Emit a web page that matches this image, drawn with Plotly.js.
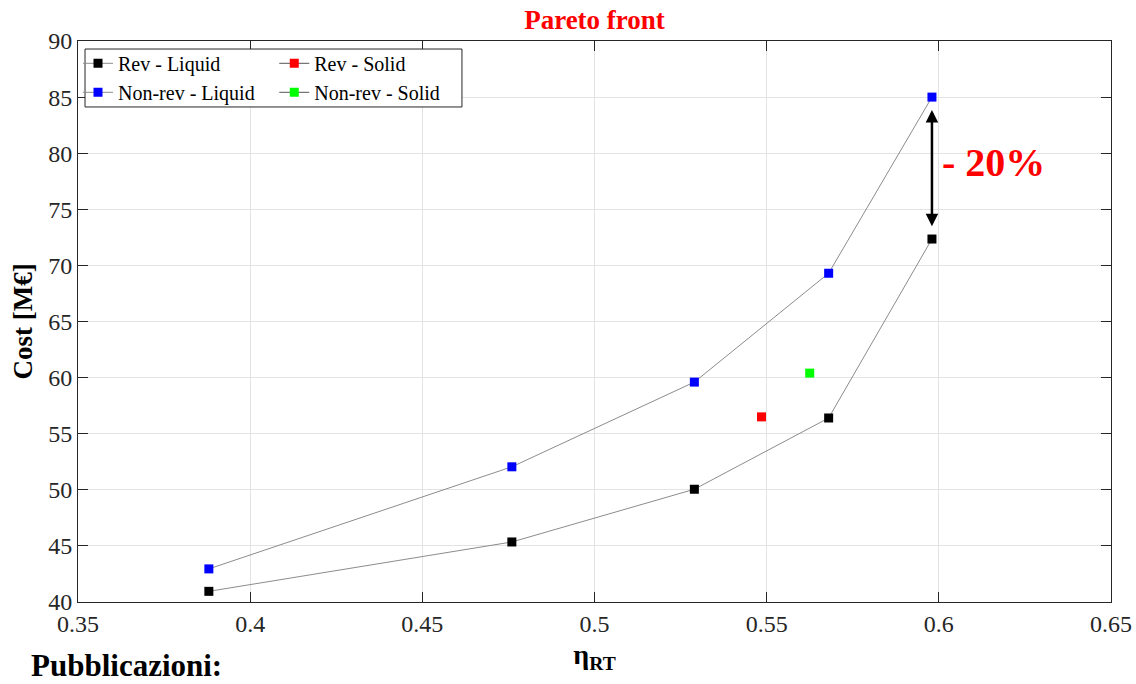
<!DOCTYPE html>
<html>
<head>
<meta charset="utf-8">
<script src="https://cdn.plot.ly/plotly-3.0.1.min.js"></script>
<style>html,body{margin:0;padding:0;background:#fff;}#chart{width:1136px;height:684px;}</style>
</head>
<body>
<div id="chart"></div>
<script>
// Data
const revLiquidEta  = [0.388, 0.476, 0.529, 0.568, 0.598];
const revLiquidCost = [40.95, 45.35, 50.05, 56.4, 72.35];
const nonRevLiquidEta  = [0.388, 0.476, 0.529, 0.568, 0.598];
const nonRevLiquidCost = [42.95, 52.05, 59.6, 69.3, 85.0];
const revSolidEta  = [0.5485];
const revSolidCost = [56.5];
const nonRevSolidEta  = [0.5625];
const nonRevSolidCost = [60.4];
const xTicks = [0.35, 0.4, 0.45, 0.5, 0.55, 0.6, 0.65];
const xTickLabels = ['0.35', '0.4', '0.45', '0.5', '0.55', '0.6', '0.65'];
const yTicks = [40, 45, 50, 55, 60, 65, 70, 75, 80, 85, 90];
const reductionLabel = '- 20%';

const FONT = 'Liberation Serif, Times New Roman, serif';
const lineStyle = {color: '#8c8c8c', width: 1};

const traces = [
  {x: revLiquidEta, y: revLiquidCost, name: 'Rev - Liquid', mode: 'lines+markers',
   line: lineStyle, marker: {symbol: 'square', size: 9, color: '#000000'}, legend: 'legend'},
  {x: nonRevLiquidEta, y: nonRevLiquidCost, name: 'Non-rev - Liquid', mode: 'lines+markers',
   line: lineStyle, marker: {symbol: 'square', size: 9, color: '#0000ff'}, legend: 'legend'},
  {x: revSolidEta, y: revSolidCost, name: 'Rev - Solid', mode: 'lines+markers',
   line: {color: '#555555', width: 1}, marker: {symbol: 'square', size: 9, color: '#ff0000'}, legend: 'legend2'},
  {x: nonRevSolidEta, y: nonRevSolidCost, name: 'Non-rev - Solid', mode: 'lines+markers',
   line: {color: '#555555', width: 1}, marker: {symbol: 'square', size: 9, color: '#00ff00'}, legend: 'legend2'}
];

const axisCommon = {
  showline: true, mirror: 'ticks', linecolor: '#262626', linewidth: 1,
  ticks: 'inside', ticklen: 10, tickcolor: '#262626', tickwidth: 1,
  showgrid: true, gridcolor: '#e3e3e3', gridwidth: 1, zeroline: false,
  tickfont: {family: FONT, size: 24, color: '#262626'}
};

const arrowX = revLiquidEta[4];

const layout = {
  width: 1136, height: 684,
  margin: {l: 78, r: 25, t: 41, b: 82},
  paper_bgcolor: '#ffffff', plot_bgcolor: '#ffffff',
  font: {family: FONT, color: '#000'},
  title: {text: '<b>Pareto front</b>', font: {family: FONT, size: 27, color: '#ff0000'},
          x: 0.5, xref: 'paper', xanchor: 'center', y: 0.971, yref: 'container', yanchor: 'middle'},
  xaxis: Object.assign({}, axisCommon, {
    range: [0.35, 0.65], tickvals: xTicks, ticktext: xTickLabels,
    title: {text: '<b>η<sub>RT</sub></b>', font: {family: FONT, size: 28, color: '#000'}, standoff: 8}
  }),
  yaxis: Object.assign({}, axisCommon, {
    range: [40, 90], tickvals: yTicks,
    title: {text: '<b>Cost [M€]</b>', font: {family: FONT, size: 27, color: '#000'}, standoff: 7}
  }),
  showlegend: true,
  legend: {x: 0.0, y: 0.995, xanchor: 'left', yanchor: 'top', bgcolor: 'rgba(0,0,0,0)', borderwidth: 0,
           font: {family: FONT, size: 20, color: '#000'}, tracegroupgap: 0, itemwidth: 30},
  legend2: {x: 0.19, y: 0.995, xanchor: 'left', yanchor: 'top', bgcolor: 'rgba(0,0,0,0)', borderwidth: 0,
           font: {family: FONT, size: 20, color: '#000'}, tracegroupgap: 0, itemwidth: 30},
  shapes: [
    {type: 'rect', xref: 'paper', yref: 'paper', x0: 0.0068, x1: 0.3717, y0: 0.8824, y1: 0.9857,
     line: {color: '#262626', width: 1}, fillcolor: '#ffffff', layer: 'above'}
  ],
  annotations: [
    {x: arrowX, y: 83.85, ax: arrowX, ay: 73.35, xref: 'x', yref: 'y', axref: 'x', ayref: 'y',
     text: '', showarrow: true, arrowhead: 2, startarrowhead: 2, arrowside: 'end+start',
     arrowsize: 1, startarrowsize: 1, arrowwidth: 2.5, arrowcolor: '#000'},
    {x: 0.6003, y: 79.2, xref: 'x', yref: 'y', xanchor: 'left', yanchor: 'middle', showarrow: false,
     text: '<b>' + reductionLabel + '</b>', font: {family: FONT, size: 40, color: '#ff0000'}},
    {x: -0.0475, y: -0.113, xref: 'paper', yref: 'paper', xanchor: 'left', yanchor: 'middle', showarrow: false,
     text: '<b>Pubblicazioni:</b>', font: {family: FONT, size: 31, color: '#000'}}
  ]
};

Plotly.newPlot('chart', traces, layout, {displayModeBar: false, staticPlot: true});
</script>
</body>
</html>
